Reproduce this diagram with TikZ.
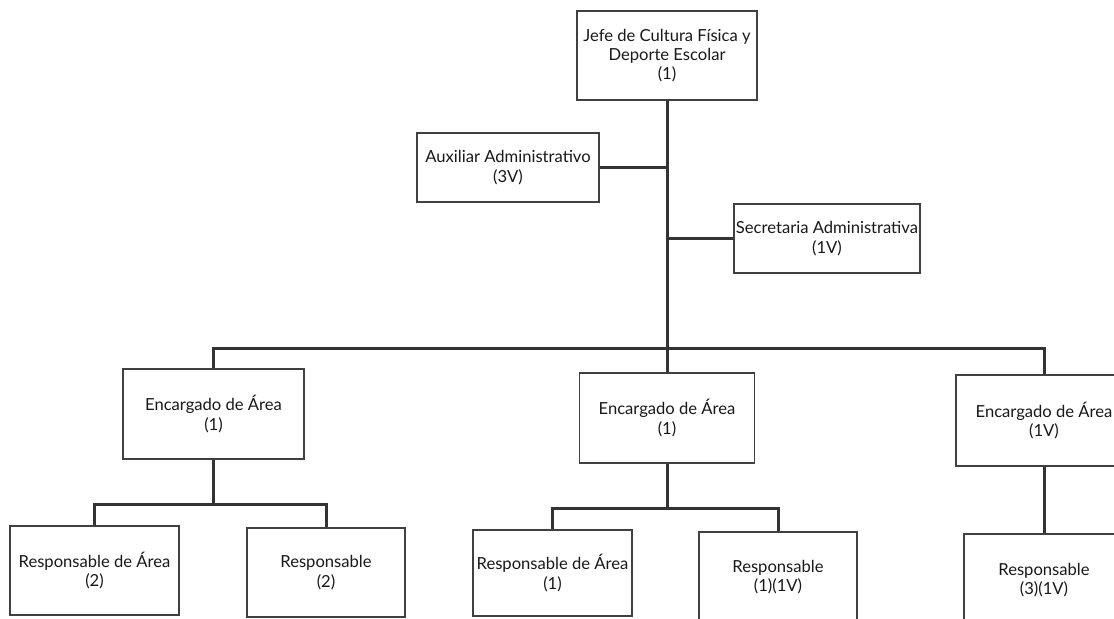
\documentclass[tikz,border=0pt]{standalone}
\usepackage{fontspec}
\setmainfont{Lato}
\begin{document}
\begin{tikzpicture}[x=0.5pt, y=-0.5pt,
    caja/.style={draw=black!75, line width=0.6pt, fill=white, align=center,
      inner sep=1pt, font=\fontsize{8.3}{9.6}\selectfont, text=black!90},
    linea/.style={draw=black!80, line width=1.5pt}]
    \useasboundingbox[fill=white] (0,0) rectangle (1114,618);
    \clip (0,0) rectangle (1114,618);
    % cajas
    \node[caja, minimum width=90pt, minimum height=44.5pt] (jefe) at (667,55.5) {Jefe de Cultura Física y\\Deporte Escolar\\(1)};
    \node[caja, minimum width=91pt, minimum height=34.5pt] (aux) at (508,167.5) {Auxiliar Administrativo\\(3V)};
    \node[caja, minimum width=92.5pt, minimum height=34.5pt] (sec) at (827,238.5) {Secretaria Administrativa\\(1V)};
    \node[caja, minimum width=90.5pt, minimum height=45pt] (enc1) at (213.5,414) {Encargado de Área\\(1)};
    \node[caja, minimum width=87.5pt, minimum height=45pt] (enc2) at (667,418) {Encargado de Área\\(1)};
    \node[caja, minimum width=88pt, minimum height=45.5pt] (enc3) at (1044,420.5) {Encargado de Área\\(1V)};
    \node[caja, minimum width=84.5pt, minimum height=44.5pt] (res11) at (94.5,570.5) {Responsable de Área\\(2)};
    \node[caja, minimum width=79pt, minimum height=44.5pt] (res12) at (326,572.5) {Responsable\\(2)};
    \node[caja, minimum width=79.5pt, minimum height=43pt] (res21) at (552.5,573) {Responsable de Área\\(1)};
    \node[caja, minimum width=79pt, minimum height=45pt] (res22) at (778,577) {Responsable\\(1)(1V)};
    \node[caja, minimum width=80pt, minimum height=46pt] (res3) at (1044,580) {Responsable\\(3)(1V)};
    % conectores
    \coordinate (bus) at (667,348);
    \coordinate (sb1) at (213.5,504);
    \coordinate (sb2) at (667,508);
    \draw[linea] (jefe.south) -- (bus);
    \draw[linea] (aux.east) -- (aux.east -| jefe.south);
    \draw[linea] (sec.west) -- (sec.west -| jefe.south);
    \draw[linea] (enc1.north) |- (bus) -| (enc3.north);
    \draw[linea] (bus) -- (enc2.north);
    \draw[linea] (enc1.south) -- (sb1);
    \draw[linea] (res11.north) |- (sb1) -| (res12.north);
    \draw[linea] (enc2.south) -- (sb2);
    \draw[linea] (res21.north) |- (sb2) -| (res22.north);
    \draw[linea] (enc3.south) -- (res3.north);
\end{tikzpicture}
\end{document}
